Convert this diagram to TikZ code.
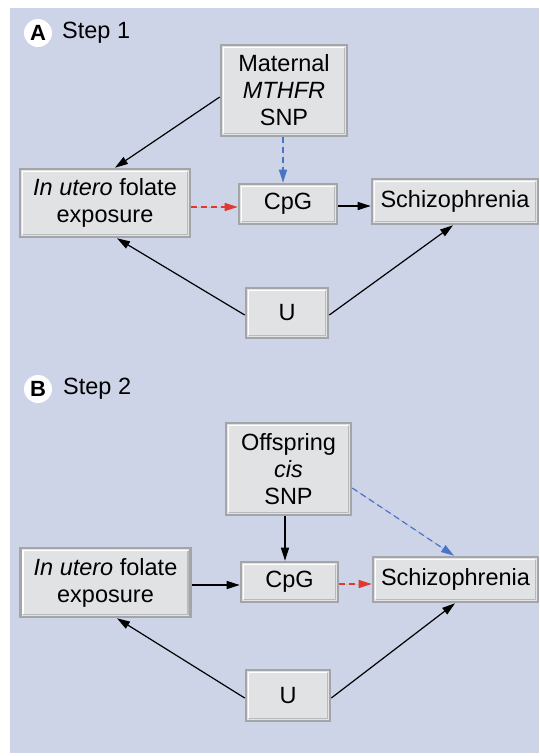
\documentclass[tikz,border=0pt]{standalone}
\usepackage{fontspec}
\setmainfont{Liberation Sans}
\usetikzlibrary{arrows.meta}
\definecolor{bgpanel}{HTML}{CDD4E8}
\definecolor{boxfill}{HTML}{E1E2E4}
\definecolor{boxedge}{HTML}{A4A5A8}
\definecolor{boxdark}{HTML}{B9BABC}
\definecolor{dashblue}{HTML}{4A74C4}
\definecolor{dashred}{HTML}{E0392E}
\tikzset{
  nbox/.style={rectangle, fill=boxfill, draw=boxedge, line width=2.6pt,
    inner sep=0pt, align=center, font=\fontsize{23.5}{27}\selectfont,
    path picture={
      \draw[white, line width=1.3pt]
        ([shift={(2.6pt,2.6pt)}]path picture bounding box.south west) --
        ([shift={(2.6pt,-2.6pt)}]path picture bounding box.north west) --
        ([shift={(-2.6pt,-2.6pt)}]path picture bounding box.north east);
      \draw[boxdark, line width=1.3pt]
        ([shift={(-2.6pt,-2.6pt)}]path picture bounding box.north east) --
        ([shift={(-2.6pt,2.6pt)}]path picture bounding box.south east) --
        ([shift={(2.6pt,2.6pt)}]path picture bounding box.south west);
    }},
  conn/.style={line width=1.2pt, -{Triangle[length=13pt,width=8pt]}},
  bdash/.style={conn, draw=dashblue, fill=dashblue, dash pattern=on 6pt off 4pt},
  rdash/.style={conn, draw=dashred, fill=dashred, dash pattern=on 6pt off 4pt},
  badge/.style={circle, fill=white, minimum size=28pt, inner sep=0pt,
    font=\fontsize{22}{22}\selectfont\bfseries},
  steplabel/.style={anchor=west, inner sep=0pt, font=\fontsize{23.5}{27}\selectfont}
}
\begin{document}
\begin{tikzpicture}[x=1pt, y=-1pt]
\useasboundingbox (0,0) rectangle (539,756);
\fill[white] (0,0) rectangle (539,756);
\fill[bgpanel] (10,8) rectangle (539,753);

% Panel A
\node[badge] (badgeA) at (38,33) {A};
\node[steplabel] (stepA) at (62,33) {Step 1};
\node[nbox, minimum width=126pt, minimum height=91pt] (matA) at (284,90.5) {Maternal\\\itshape MTHFR\\SNP};
\node[nbox, minimum width=98pt, minimum height=40pt] (cpgA) at (288,204) {CpG};
\node[nbox, minimum width=166pt, minimum height=45pt] (schA) at (455,201.5) {Schizophrenia};
\node[nbox, minimum width=170pt, minimum height=68pt] (inA) at (105,203) {\textit{In utero} folate\\exposure};
\node[nbox, minimum width=82pt, minimum height=50pt] (uA) at (287,313) {U};

\draw[conn] ([yshift=-6.5pt]matA.west) -- ([xshift=10pt]inA.north);
\draw[bdash] ([xshift=-1pt]matA.south) -- ([xshift=-5pt]cpgA.north);
\draw[rdash] ([yshift=-3pt]cpgA.west -| inA.east) -- ([yshift=-3pt]cpgA.west);
\draw[conn] ([yshift=-2pt]cpgA.east) -- ([yshift=-2pt]cpgA.east -| schA.west);
\draw[conn] ([yshift=-2pt]uA.west) -- ([xshift=12pt]inA.south);
\draw[conn] ([yshift=-2pt]uA.east) -- ([xshift=-2pt]schA.south);

% Panel B
\node[badge] (badgeB) at (38,389) {B};
\node[steplabel] (stepB) at (63,389) {Step 2};
\node[nbox, minimum width=125pt, minimum height=92pt] (offB) at (288.5,469) {Offspring\\\itshape cis\\SNP};
\node[nbox, minimum width=97pt, minimum height=40pt] (cpgB) at (289.5,582) {CpG};
\node[nbox, minimum width=165pt, minimum height=45pt] (schB) at (455.5,579.5) {Schizophrenia};
\node[nbox, minimum width=170pt, minimum height=69pt] (inB) at (105.5,582.5) {\textit{In utero} folate\\exposure};
\node[nbox, minimum width=84pt, minimum height=51pt] (uB) at (288,695.5) {U};

\draw[conn] ([xshift=-3.5pt]offB.south) -- ([xshift=-4.5pt]cpgB.north);
\draw[bdash] ([yshift=-19pt]offB.east) -- ([xshift=-1.5pt]schB.north);
\draw[conn] ([yshift=-3pt]cpgB.west -| inB.east) -- ([yshift=-3pt]cpgB.west);
\draw[rdash] ([yshift=-2pt]cpgB.east) -- ([yshift=-2pt]cpgB.east -| schB.west);
\draw[conn] ([yshift=-2.5pt]uB.west) -- ([xshift=11.5pt]inB.south);
\draw[conn] ([yshift=-2.5pt]uB.east) -- ([xshift=-0.5pt]schB.south);
\end{tikzpicture}
\end{document}
